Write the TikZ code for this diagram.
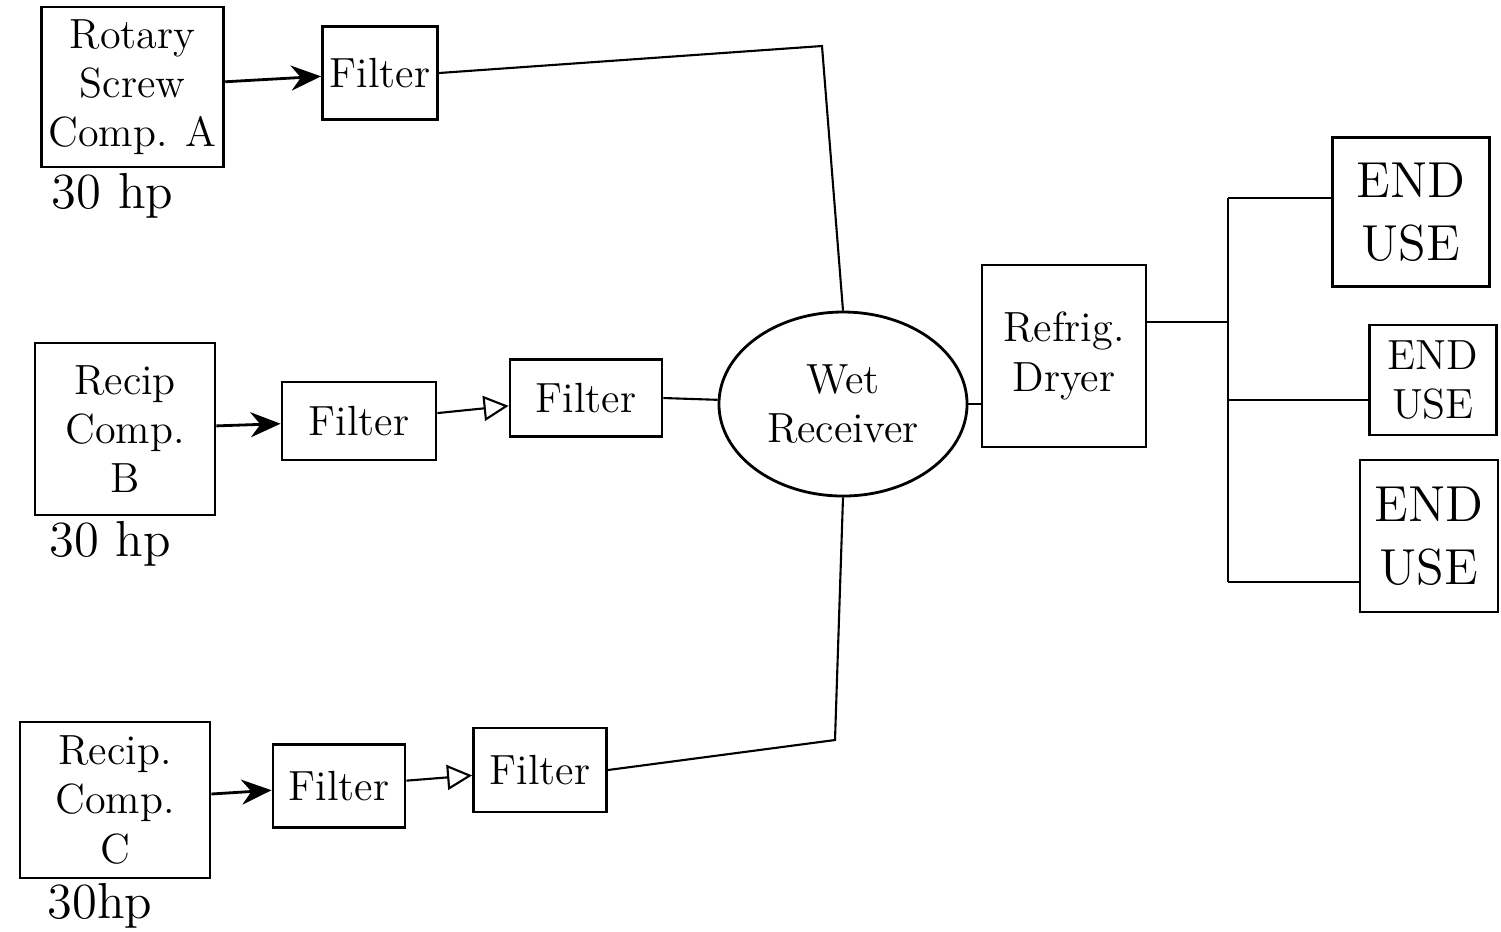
\documentclass[tikz,border=0pt]{standalone}
\usepackage{amsmath}
\usepackage{xcolor}
\usepackage{tikz}
\usetikzlibrary{shapes, positioning, arrows.meta, calc}

\begin{document}
\begin{tikzpicture}[
    box/.style={rectangle, draw=black, thick, align=center, inner sep=2pt},
    filt/.style={box, font=\large},
    pipe/.style={semithick},
    feed/.style={thick, -{Stealth[length=3mm, width=2.5mm]}},
    pass/.style={semithick, -{Triangle[open, length=2.5mm, width=2.5mm]}},
    every node/.style={font=\large}
]
\useasboundingbox (0,0) rectangle (15.01,-9.31);

% compressors
\node[box, minimum width=1.75cm, minimum height=1.6cm] (ca) at (1.325,-0.87) {Rotary\\Screw\\Comp. A};
\node[box, minimum width=1.8cm, minimum height=1.72cm] (cb) at (1.25,-4.29) {Recip\\Comp.\\B};
\node[box, minimum width=1.9cm, minimum height=1.56cm] (cc) at (1.15,-8.0) {Recip.\\Comp.\\C};

% ratings
\node[below=-0.07cm of ca, xshift=-0.2cm, font=\Large] (hpa) {30 hp};
\node[below=-0.07cm of cb, xshift=-0.15cm, font=\Large] (hpb) {30 hp};
\node[below=-0.08cm of cc, xshift=-0.15cm, font=\Large] (hpc) {30hp};

% filters
\node[filt, minimum width=1.15cm, minimum height=0.93cm] (fa) at (3.8,-0.73) {Filter};
\node[filt, minimum width=1.54cm, minimum height=0.78cm] (fb1) at (3.59,-4.21) {Filter};
\node[filt, minimum width=1.52cm, minimum height=0.77cm] (fb2) at (5.86,-3.98) {Filter};
\node[filt, minimum width=1.32cm, minimum height=0.83cm] (fc1) at (3.39,-7.86) {Filter};
\node[filt, minimum width=1.33cm, minimum height=0.84cm] (fc2) at (5.40,-7.70) {Filter};

% receiver and dryer
\node[ellipse, draw=black, thick, align=center, minimum width=2.06cm, minimum height=1.84cm] (rcv) at (8.43,-4.04) {Wet\\Receiver};
\node[box, minimum width=1.64cm, minimum height=1.82cm] (dry) at (10.64,-3.56) {Refrig.\\Dryer};

% end uses
\node[box, minimum width=1.57cm, minimum height=1.49cm, font=\Large] (eu1) at (14.11,-2.12) {END\\USE};
\node[box, minimum width=1.27cm, minimum height=1.1cm, font=\large] (eu2) at (14.33,-3.80) {END\\USE};
\node[box, minimum width=1.38cm, minimum height=1.52cm, font=\Large] (eu3) at (14.29,-5.36) {END\\USE};

% junctions
\coordinate (ja) at (8.22,-0.46);
\coordinate (jc) at (8.35,-7.40);
\coordinate (td) at (12.28,-3.22);
\coordinate (t1) at (12.28,-1.98);
\coordinate (t2) at (12.28,-4.0);
\coordinate (t3) at (12.28,-5.82);

% Arrows
\draw[feed] (ca) -- (fa);
\draw[feed] (cb) -- (fb1);
\draw[feed] (cc) -- (fc1);
\draw[pass] (fb1) -- (fb2);
\draw[pass] (fc1) -- (fc2);

% Lines
\draw[pipe] (fa.east) -- (ja) -- (rcv.north);
\draw[pipe] (fb2.east) -- (rcv);
\draw[pipe] (fc2.east) -- (jc) -- (rcv.south);
\draw[pipe] (rcv.east) -- (rcv.east -| dry.west);
\draw[pipe] (td -| dry.east) -- (td);
\draw[pipe] (t1) -- (t3);
\draw[pipe] (t1) -- (t1 -| eu1.west);
\draw[pipe] (t2) -- (t2 -| eu2.west);
\draw[pipe] (t3) -- (t3 -| eu3.west);
\end{tikzpicture}
\end{document}
